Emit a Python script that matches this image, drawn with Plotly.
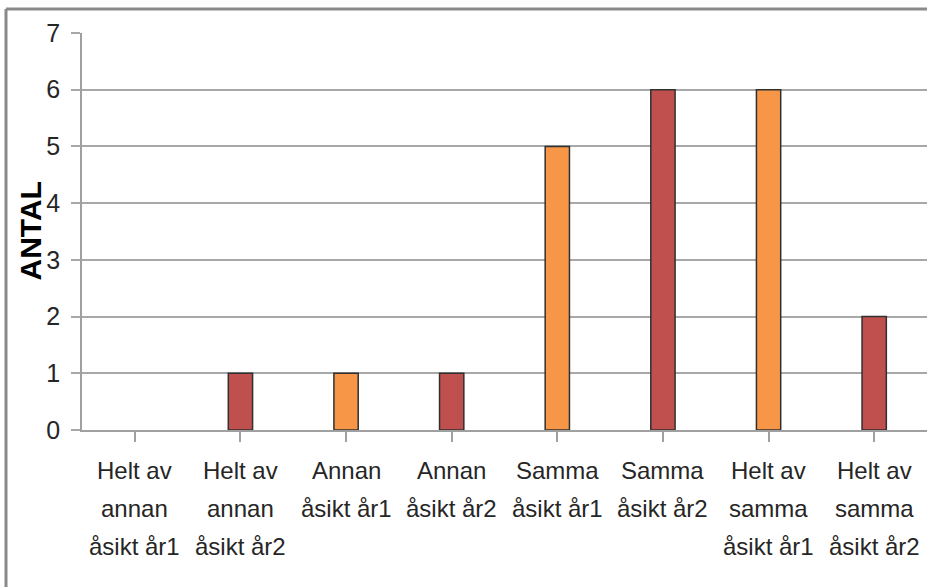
import plotly.graph_objects as go

categories = [
    "Helt av\nannan\nåsikt år1",
    "Helt av\nannan\nåsikt år2",
    "Annan\nåsikt år1",
    "Annan\nåsikt år2",
    "Samma\nåsikt år1",
    "Samma\nåsikt år2",
    "Helt av\nsamma\nåsikt år1",
    "Helt av\nsamma\nåsikt år2",
]
values = [0, 1, 1, 1, 5, 6, 6, 2]
orange = "#F79646"
red = "#C0504D"
colors = [orange, red, orange, red, orange, red, orange, red]
y_title = "ANTAL"

FONT = "Liberation Sans, Arial, sans-serif"

W, H = 927, 587
L, T, B = 82, 33, 157
pw, ph = W - L, H - T - B

fig = go.Figure()
fig.add_trace(go.Bar(
    x=list(range(len(categories))),
    y=values,
    width=0.23,
    marker=dict(color=colors,
                line=dict(color="#303030", width=[0 if v == 0 else 1.5 for v in values])),
    showlegend=False,
))

# multi-line category labels as annotations (wider line spacing)
for i, cat in enumerate(categories):
    for j, line in enumerate(cat.split("\n")):
        fig.add_annotation(
            x=i, y=0, xref="x", yref="y",
            text=line, showarrow=False,
            yshift=-40 - 38 * j, yanchor="middle",
            font=dict(family=FONT, size=24, color="#262626"),
        )

# y-axis title
fig.add_annotation(
    x=(30 - L) / pw, y=0.5, xref="paper", yref="paper",
    text="<b>" + y_title + "</b>", textangle=-90, showarrow=False,
    xanchor="center", yanchor="middle",
    font=dict(family=FONT, size=30, color="#000"),
)

# chart frame (left and top)
fx = (6 - L) / pw
fy = (H - B - 9) / ph
fig.add_shape(type="line", xref="paper", yref="paper",
              x0=fx, x1=1.2, y0=fy, y1=fy,
              line=dict(color="#8a8a8a", width=3))
fig.add_shape(type="line", xref="paper", yref="paper",
              x0=fx, x1=fx, y0=fy, y1=-1,
              line=dict(color="#8a8a8a", width=3))

fig.update_layout(
    width=W, height=H,
    margin=dict(l=L, r=0, t=T, b=B),
    plot_bgcolor="white", paper_bgcolor="white",
    xaxis=dict(
        range=[-0.5, len(categories) - 0.5],
        tickmode="array", tickvals=list(range(len(categories))),
        ticktext=[""] * len(categories),
        tickson="boundaries", ticks="outside", ticklen=10,
        tickcolor="#a0a0a0", tickwidth=1.5,
        showline=True, linecolor="#a0a0a0", linewidth=1.5,
        showgrid=False, zeroline=False,
    ),
    yaxis=dict(
        range=[0, 7], dtick=1,
        showgrid=True, gridcolor="#a8a8a8", gridwidth=1.5,
        ticks="outside", ticklen=9, tickcolor="#a8a8a8", tickwidth=1.5,
        showline=True, linecolor="#a0a0a0", linewidth=1.5,
        zeroline=False,
        ticklabelstandoff=6,
        tickfont=dict(family=FONT, size=25, color="#262626"),
    ),
)

fig.write_html(
    "out.html",
    config={"displayModeBar": False},
    post_script="document.body.style.margin='0';document.documentElement.style.overflow='hidden';",
)
